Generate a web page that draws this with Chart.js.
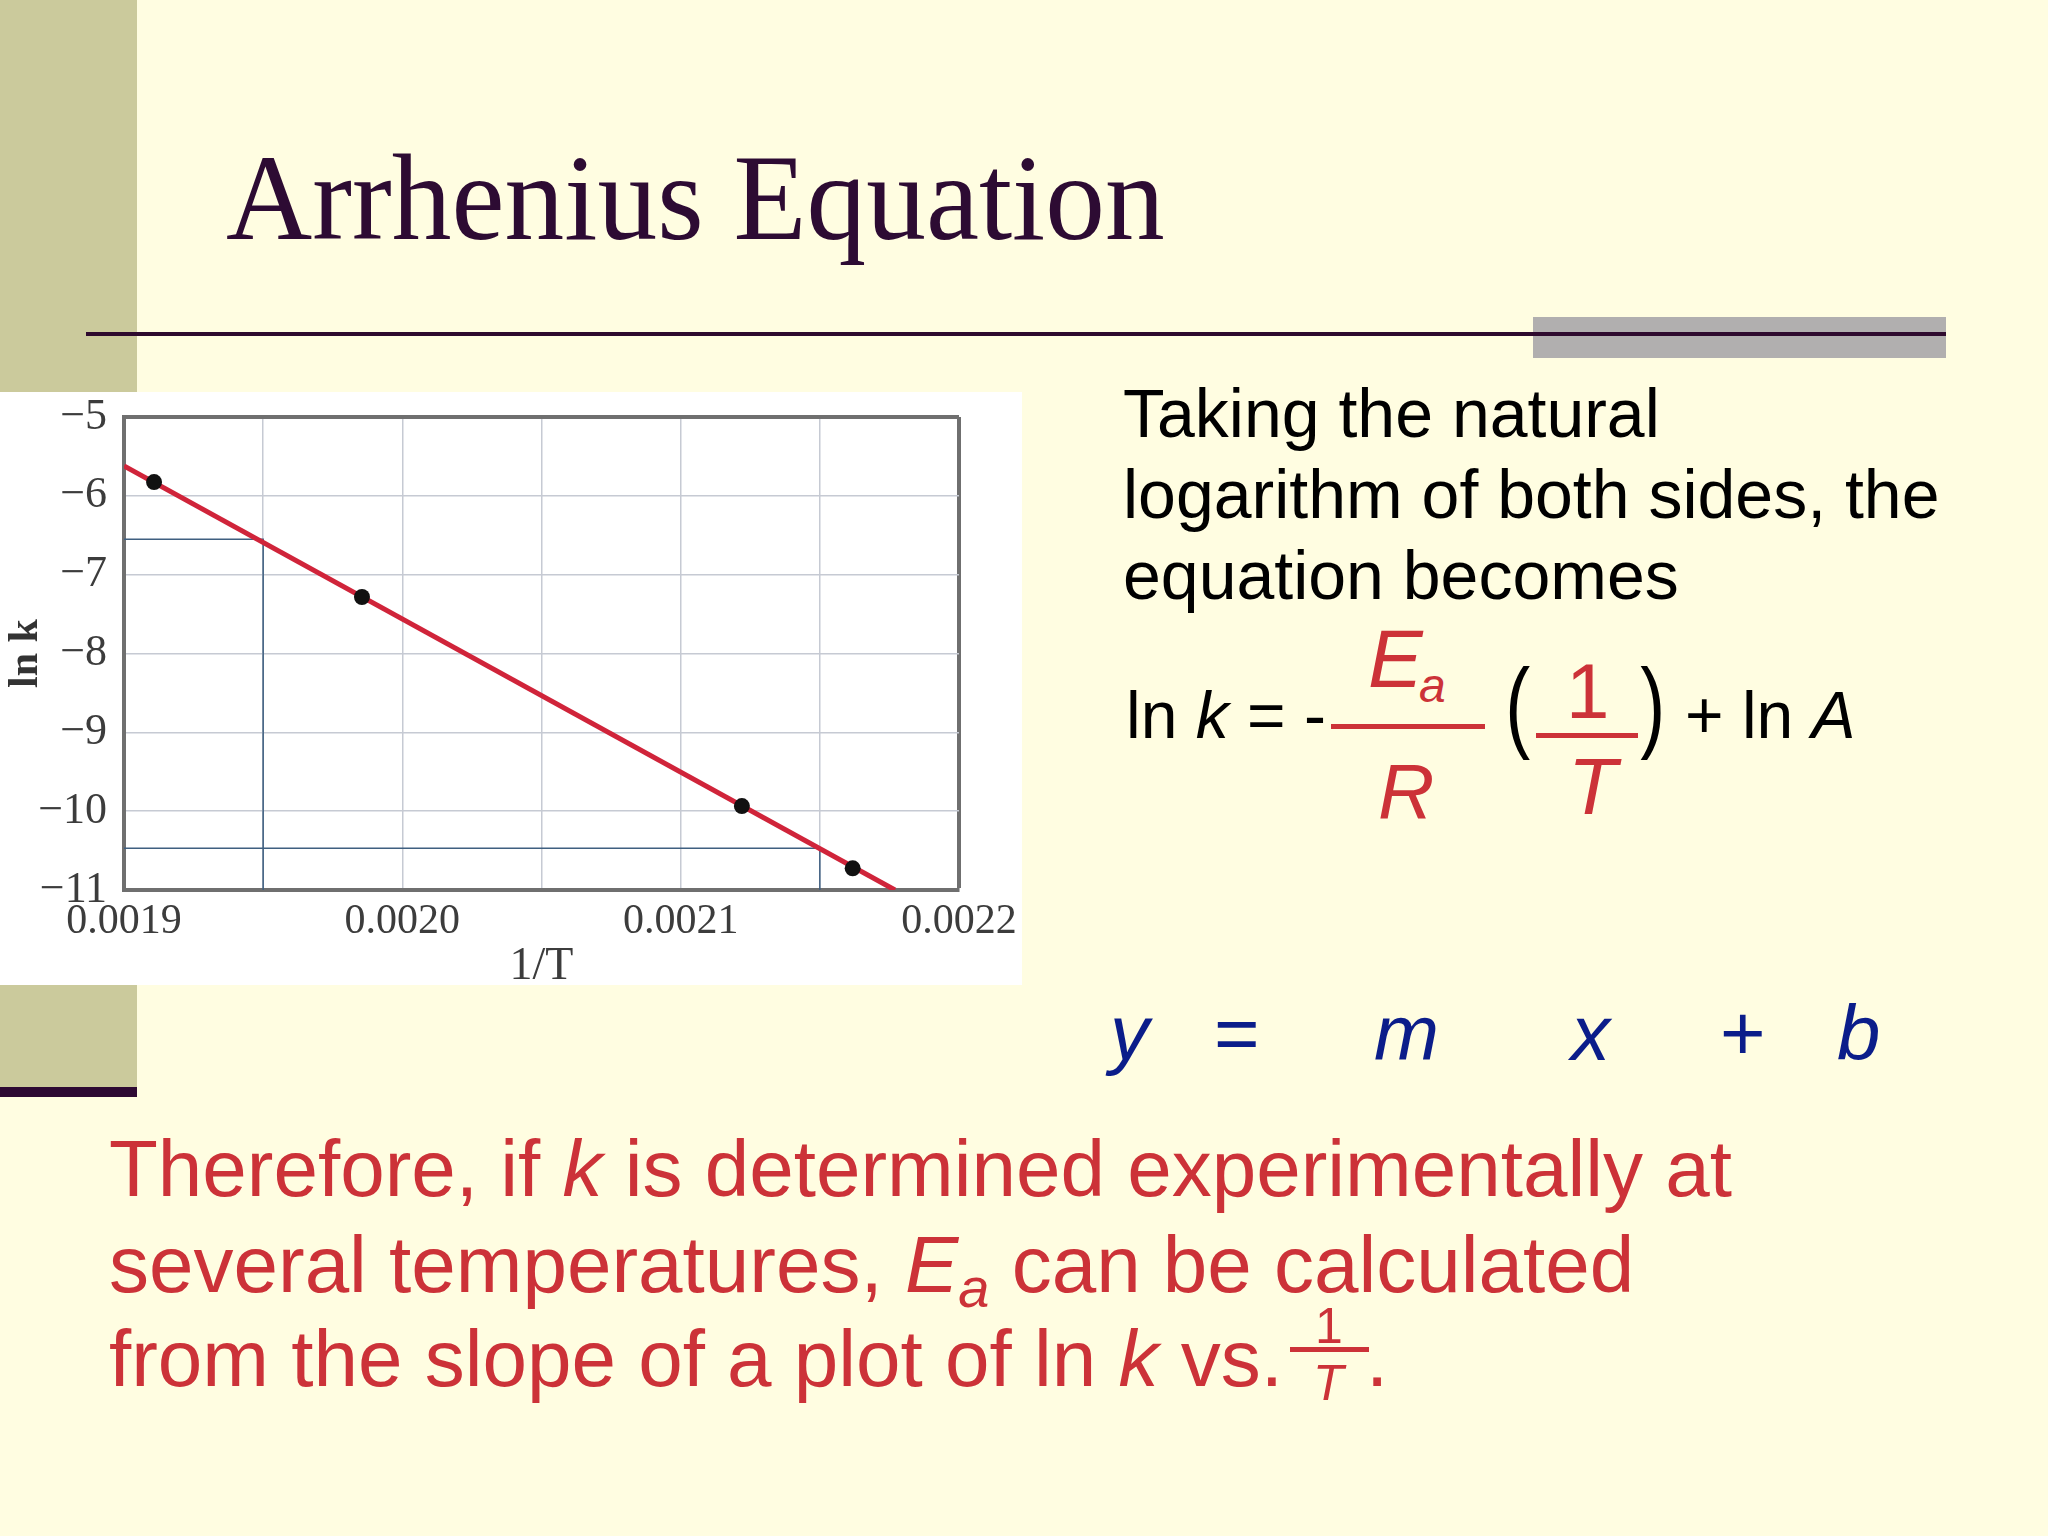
<!DOCTYPE html>
<html>
<head>
<meta charset="utf-8">
<title>Arrhenius Equation</title>
<script src="https://cdn.jsdelivr.net/npm/chart.js@4.4.1/dist/chart.umd.min.js"></script>
<style>
    html, body { margin: 0; padding: 0; }
    body {
        width: 2048px; height: 1536px; position: relative; overflow: hidden;
        background: #fffde1;
        font-family: 'Liberation Sans', Arial, sans-serif;
    }
    .abs { position: absolute; white-space: nowrap; line-height: 1; }
    .band { left: 0; top: 0; width: 137px; height: 1087px; background: #cbca9c; }
    .band-foot { left: 0; top: 1087px; width: 137px; height: 10px; background: #2e0a33; }
    .gray-box { left: 1533px; top: 317px; width: 413px; height: 41px; background: #b1afaf; }
    .rule { left: 86px; top: 332px; width: 1860px; height: 4px; background: #2e0a2e; }
    .title {
        left: 226px; top: 137px; font-family: 'Liberation Serif', 'Times New Roman', serif;
        font-size: 122px; color: #2d0b33; transform: scaleX(0.979); transform-origin: 0 0;
    }
    .chart-wrap { left: 0; top: 392px; width: 1022px; height: 593px; background: #fff; }
    .chart-wrap canvas { display: block; background: #fff; }
    .intro { left: 1123px; top: 373px; font-size: 68px; line-height: 81px; color: #000; }
    .blk { color: #000; }
    .red { color: #cc3238; }
    .paren { transform: scaleX(0.75); transform-origin: 50% 50%; }
    .bar { position: absolute; background: #cc3238; }
    .navy { color: #0b1d8a; font-size: 78px; top: 994px; }
    .para { left: 109px; font-size: 80px; color: #cc3238; }
    .sub { position: relative; top: 15px; font-size: 56px; font-style: italic; }
</style>
</head>
<body>

<div class="abs band"></div>
<div class="abs band-foot"></div>
<div class="abs gray-box"></div>
<div class="abs rule"></div>

<div class="abs title">Arrhenius Equation</div>

<div class="abs chart-wrap">
    <canvas id="arrheniusChart" width="1022" height="593"></canvas>
</div>

<div class="abs intro">Taking the natural<br>logarithm of both sides, the<br>equation becomes</div>

<!-- ln k = -Ea/R (1/T) + ln A -->
<span class="abs blk" style="left:1126px; top:682px; font-size:66px;">ln <i>k</i> = -</span>
<div class="bar" style="left:1331px; top:724px; width:154px; height:5px;"></div>
<span class="abs red" style="left:1368px; top:618px; font-size:82px; font-style:italic;">E</span>
<span class="abs red" style="left:1419px; top:662px; font-size:48px; font-style:italic;">a</span>
<span class="abs red" style="left:1378px; top:752px; font-size:78px; font-style:italic;">R</span>
<span class="abs blk paren" style="left:1501px; top:654px; font-size:100px;">(</span>
<span class="abs red" style="left:1566px; top:652px; font-size:78px;">1</span>
<div class="bar" style="left:1536px; top:733px; width:102px; height:5px;"></div>
<span class="abs red" style="left:1568px; top:747px; font-size:80px; font-style:italic;">T</span>
<span class="abs blk paren" style="left:1636px; top:654px; font-size:100px;">)</span>
<span class="abs blk" style="left:1685px; top:682px; font-size:66px;">+ ln <i>A</i></span>

<!-- y = m x + b -->
<span class="abs navy" style="left:1110px;"><i>y</i></span>
<span class="abs navy" style="left:1214px;">=</span>
<span class="abs navy" style="left:1374px;"><i>m</i></span>
<span class="abs navy" style="left:1571px;"><i>x</i></span>
<span class="abs navy" style="left:1720px;">+</span>
<span class="abs navy" style="left:1837px;"><i>b</i></span>

<div class="abs para" style="top:1129px;">Therefore, if <i>k</i> is determined experimentally at</div>
<div class="abs para" style="top:1225px;">several temperatures, <i>E</i><span class="sub">a</span> can be calculated</div>
<div class="abs para" style="top:1319px;">from the slope of a plot of ln <i>k</i> vs.</div>
<span class="abs red" style="left:1315px; top:1301px; font-size:50px;">1</span>
<div class="bar" style="left:1290px; top:1347px; width:79px; height:5px;"></div>
<span class="abs red" style="left:1313px; top:1358px; font-size:50px; font-style:italic;">T</span>
<span class="abs red" style="left:1366px; top:1319px; font-size:80px;">.</span>

<script>
(function(){
    'use strict';

    // =========================================
    // DATA
    // =========================================
    var invTemp = [0.0019108, 0.0019855, 0.0021220, 0.0021618];
    var lnK     = [-5.825, -7.283, -9.935, -10.725];

    // best-fit line, from the left edge down to the bottom edge
    var fitInvT = [0.0019, 0.002177];
    var fitLnK  = [-5.62, -11.0];

    // the two blue read-off lines
    var guideAInvT = [0.0019, 0.00195, 0.00195];
    var guideALnK  = [-6.55, -6.55, -11];
    var guideBInvT = [0.0019, 0.00215, 0.00215];
    var guideBLnK  = [-10.47, -10.47, -11];

    var xTickLabels = ['0.0019', '0.0020', '0.0021', '0.0022'];
    var yTickLabels = ['\u221211', '\u221210', '\u22129', '\u22128', '\u22127', '\u22126', '\u22125'];

    var xMin = 0.0019, xMax = 0.0022;
    var yMin = -11, yMax = -5;

    var gridColor = '#c6cad3';
    var frameColor = '#6f6f6f';
    var serif = "'Liberation Serif', 'DejaVu Serif', serif";

    function pairs(xs, ys) {
        return xs.map(function(x, i) { return { x: x, y: ys[i] }; });
    }

    // =========================================
    // CHART
    // =========================================
    var ctx = document.getElementById('arrheniusChart');

    new Chart(ctx, {
        type: 'scatter',
        data: {
            datasets: [{
                label: 'ln k',
                data: pairs(invTemp, lnK),
                backgroundColor: '#111',
                borderWidth: 0,
                pointRadius: 8,
                order: 0
            }, {
                label: 'fit',
                data: pairs(fitInvT, fitLnK),
                showLine: true,
                borderColor: '#d0243a',
                borderWidth: 5,
                pointRadius: 0,
                order: 1
            }, {
                label: 'guide A',
                data: pairs(guideAInvT, guideALnK),
                showLine: true,
                borderColor: '#3f5f80',
                borderWidth: 1.5,
                pointRadius: 0,
                order: 2
            }, {
                label: 'guide B',
                data: pairs(guideBInvT, guideBLnK),
                showLine: true,
                borderColor: '#3f5f80',
                borderWidth: 1.5,
                pointRadius: 0,
                order: 2
            }]
        },
        options: {
            responsive: false,
            animation: false,
            events: [],
            devicePixelRatio: 1,
            layout: { padding: { top: 25, right: 63, left: 0, bottom: 0 } },
            plugins: {
                legend: { display: false },
                tooltip: { enabled: false }
            },
            scales: {
                x: {
                    type: 'linear',
                    min: xMin,
                    max: xMax,
                    afterFit: function(scale) {
                        scale.height = 95;
                        scale.paddingLeft = 0;
                        scale.paddingRight = 0;
                    },
                    border: { display: true, color: frameColor, width: 4 },
                    grid: {
                        drawTicks: false,
                        color: function(c) {
                            return c.tick && Math.abs(c.tick.value - xMax) < 1e-9 ? frameColor : gridColor;
                        },
                        lineWidth: function(c) {
                            return c.tick && Math.abs(c.tick.value - xMax) < 1e-9 ? 4 : 1.5;
                        }
                    },
                    ticks: {
                        stepSize: 0.00005,
                        autoSkip: false,
                        maxRotation: 0,
                        padding: 7,
                        color: '#3c3c3c',
                        font: { family: serif, size: 42 },
                        callback: function(v) {
                            if (Math.round(v * 1e5) % 10 !== 0) return '';
                            var lbl = v.toFixed(4);
                            return xTickLabels.indexOf(lbl) !== -1 ? lbl : '';
                        }
                    },
                    title: {
                        display: true,
                        text: '1/T',
                        color: '#3c3c3c',
                        font: { family: serif, size: 46, lineHeight: 0.8 },
                        padding: { top: 0, bottom: 0 }
                    }
                },
                y: {
                    type: 'linear',
                    min: yMin,
                    max: yMax,
                    afterFit: function(scale) {
                        scale.width = 124;
                        scale.paddingTop = 0;
                        scale.paddingBottom = 0;
                    },
                    border: { display: true, color: frameColor, width: 4 },
                    grid: {
                        drawTicks: false,
                        color: function(c) {
                            return c.tick && c.tick.value === yMax ? frameColor : gridColor;
                        },
                        lineWidth: function(c) {
                            return c.tick && c.tick.value === yMax ? 4 : 1.5;
                        }
                    },
                    ticks: {
                        stepSize: 1,
                        padding: 17,
                        color: '#3c3c3c',
                        font: { family: serif, size: 44 },
                        callback: function(v) {
                            return yTickLabels[Math.round(v) - yMin];
                        }
                    },
                    title: {
                        display: true,
                        text: 'ln k',
                        color: '#333',
                        font: { family: serif, size: 42, weight: 'bold', lineHeight: 1 },
                        padding: { top: 5, bottom: 0 }
                    }
                }
            }
        }
    });

})();
</script>
</body>
</html>
